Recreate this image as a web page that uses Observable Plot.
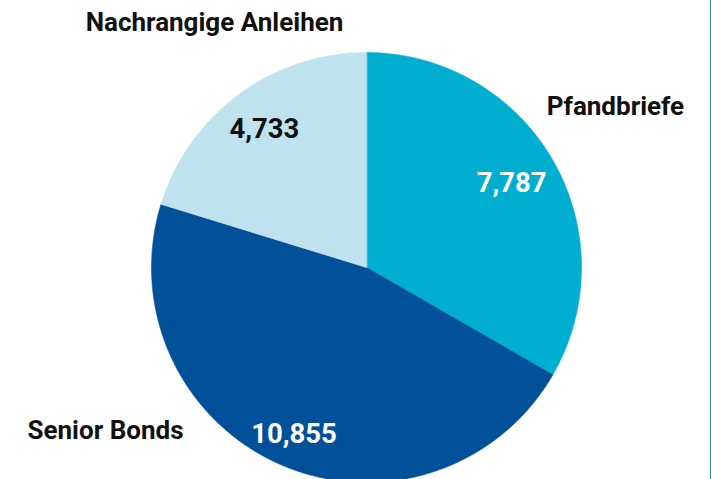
<!DOCTYPE html>
<html><head><meta charset="utf-8">
<script src="https://cdn.jsdelivr.net/npm/d3@7"></script>
<script src="https://cdn.jsdelivr.net/npm/@observablehq/plot@0.6"></script>
<style>html,body{margin:0;padding:0;background:#fff;overflow:hidden}</style>
</head><body><div id="chart"></div>
<script>
const categories = ["Pfandbriefe", "Senior Bonds", "Nachrangige Anleihen"];
const values = [7787, 10855, 4733];
const valueLabels = ["7,787", "10,855", "4,733"];
const colors = ["#00aed0", "#00509a", "#bfe3ee"];
const valueTextColors = ["#ffffff", "#ffffff", "#111111"];

// layout (not data)
const W = 711, H = 479, CX = 366, CY = 267, R = 215;
const labelRadius = [0.78, 0.845, 0.8];
const labelPos = {
  "Pfandbriefe": [1.158, 0.749],
  "Senior Bonds": [-1.214, -0.758],
  "Nachrangige Anleihen": [-0.707, 1.14]
};
const FONT = "Roboto, 'Open Sans', sans-serif";

const rows = categories.map((c, i) => ({category: c, value: values[i], label: valueLabels[i], textColor: valueTextColors[i], lr: labelRadius[i]}));
const arcs = d3.pie().sort(null).value(d => d.value)(rows);

const poly = [];
arcs.forEach(a => {
  const n = Math.max(2, Math.ceil((a.endAngle - a.startAngle) / 0.004));
  poly.push({category: a.data.category, x: 0, y: 0});
  for (let k = 0; k <= n; k++) {
    const t = a.startAngle + (a.endAngle - a.startAngle) * k / n;
    poly.push({category: a.data.category, x: Math.sin(t), y: Math.cos(t)});
  }
});
const valueText = arcs.map(a => {
  const m = (a.startAngle + a.endAngle) / 2;
  return {label: a.data.label, color: a.data.textColor, x: a.data.lr * Math.sin(m), y: a.data.lr * Math.cos(m)};
});
const catText = categories.map(c => ({category: c, x: labelPos[c][0], y: labelPos[c][1]}));

const chart = Plot.plot({
  width: W, height: H,
  marginTop: 0, marginRight: 0, marginBottom: 0, marginLeft: 0,
  x: {domain: [-1, 1], range: [CX - R, CX + R], axis: null},
  y: {domain: [-1, 1], range: [CY + R, CY - R], axis: null},
  color: {domain: categories, range: colors},
  style: {background: "#fff", fontFamily: FONT},
  marks: [
    Plot.line(poly, {x: "x", y: "y", z: "category", fill: "category", stroke: "category", strokeWidth: 0.6, curve: "linear-closed"}),
    Plot.text(valueText, {x: "x", y: "y", text: "label", fill: "color", fontSize: 27.5, fontWeight: "bold", fontFamily: FONT}),
    Plot.text(catText, {x: "x", y: "y", text: "category", fill: "#111", fontSize: 26, fontWeight: "bold", fontFamily: FONT}),
    Plot.frame({anchor: "right", stroke: "#00aed0", strokeWidth: 3})
  ]
});
document.getElementById("chart").appendChild(chart);
</script>
</body></html>
